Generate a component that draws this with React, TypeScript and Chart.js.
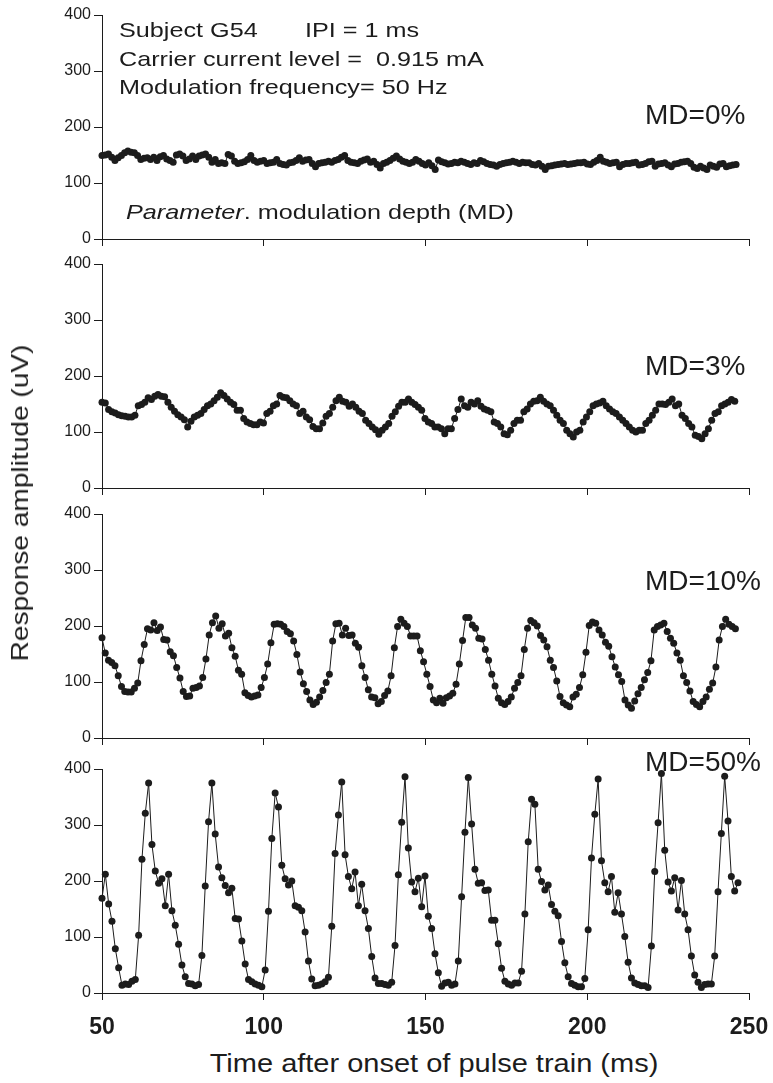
import React, { useEffect, useRef } from 'react';
import { Chart, registerables } from 'chart.js';

Chart.register(...registerables);

// ---------------- data ----------------
const T_START = 50; // ms, first pulse shown
const X_MIN = 50;
const X_MAX = 250;
const X_TICKS = [50, 100, 150, 200, 250];
const Y_MIN = 0;
const Y_MAX = 400;
const Y_TICKS = [0, 100, 200, 300, 400];

const MD_LABELS = ['MD=0%', 'MD=3%', 'MD=10%', 'MD=50%'];
// time of the last sample of each series (ms)
const LAST_TIMES = [246, 245.6, 245.8, 246.6];

// MD = 0 %
const md0 = [
  149, 150, 152, 146, 140, 145, 149, 154, 157, 155,
  154, 149, 142, 144, 145, 142, 146, 140, 147, 149,
  143, 140, 137, 150, 152, 148, 140, 143, 148, 142,
  148, 150, 152, 146, 137, 142, 135, 136, 135, 151,
  148, 139, 135, 136, 138, 142, 149, 140, 137, 139,
  140, 135, 136, 137, 142, 135, 133, 132, 136, 137,
  140, 145, 139, 141, 142, 135, 129, 135, 136, 137,
  139, 137, 140, 142, 146, 149, 140, 137, 136, 135,
  139, 141, 143, 137, 139, 133, 127, 135, 137, 140,
  144, 148, 143, 139, 137, 135, 137, 142, 139, 135,
  132,
  136, 131, 124, 141, 138, 136, 134, 135, 137, 136,
  139, 137, 135, 133, 136, 135, 140, 138, 135, 133,
  132, 130, 133, 135, 136, 137, 139, 137, 135, 137,
  136, 136, 133, 132, 135, 130, 124, 130, 131, 132,
  133, 134, 135, 133, 134, 135, 136, 136, 137, 134,
  133, 137, 140, 146, 139, 137, 135, 136, 137, 129,
  133, 135, 135, 136, 137, 132, 133, 135, 138, 139,
  130, 134, 135, 136, 132, 129, 134, 135, 137, 138,
  139, 135, 128, 126, 130, 127, 124, 132, 130, 128,
  134, 135, 129, 131, 132, 133,
];

// MD = 3 %
const md3 = [
  153, 152, 140, 136, 134, 131, 129, 128, 127, 127,
  130, 147, 149, 153, 161, 158, 164, 167, 164, 163,
  153, 144, 137, 131, 127, 122, 109, 119, 127, 130,
  133, 140, 147, 150, 156, 162, 170, 165, 159, 153,
  149, 139, 139, 124, 118, 115, 113, 113, 118, 116,
  133, 137, 147, 150, 165, 162, 161, 156, 150, 147,
  133, 137, 127, 122, 110, 106, 106, 116, 128, 133,
  144, 156, 162, 155, 153, 146, 150, 144, 137, 133,
  121, 115, 109, 104, 96, 103, 109, 115, 128, 136,
  146, 153, 153, 159, 153, 149, 144, 139, 124, 118,
  115, 109, 109, 106, 97, 106, 106, 124,
  140, 159, 147, 144, 153, 150, 156, 146, 141, 139,
  136, 118, 115, 109, 97, 95, 103, 115, 121, 121,
  136, 141, 150, 155, 156, 162, 155, 150, 147, 139,
  130, 121, 115, 103, 97, 91, 100, 103, 118, 127,
  136, 147, 150, 152, 155, 147, 141, 136, 133, 127,
  121, 115, 109, 103, 100, 103, 103, 115, 121, 130,
  139, 150, 150, 149, 153, 159, 147, 150, 130, 124,
  115, 109, 94, 92, 88, 97, 106, 121, 133, 136,
  147, 150, 153, 158, 155,
];

// MD = 10 %
const md10 = [
  179, 152, 139, 135, 129, 111, 92, 83, 82, 82,
  89, 98, 138, 167, 195, 193, 206, 192, 198, 176,
  175, 154, 147, 126, 107, 83, 74, 75, 89, 90,
  93, 108, 141, 184, 206, 218, 196, 204, 182, 187,
  161, 146, 121, 114, 81, 76, 73, 75, 77, 90,
  108, 132, 170, 203, 204, 203, 199, 190, 186, 173,
  149, 118, 97, 83, 68, 60, 64, 73, 85, 99,
  114, 173, 204, 205, 184, 196, 183, 184, 169, 162,
  129, 108, 86, 73, 72, 61, 65, 76, 84, 111,
  161, 199, 212, 205, 199, 182, 182, 182,
  156, 136, 114, 92, 68, 63, 71, 62, 72, 75,
  80, 96, 132, 174, 215, 215, 202, 196, 178, 177,
  158, 139, 114, 93, 71, 63, 60, 65, 73, 89,
  99, 111, 158, 196, 210, 206, 200, 183, 175, 163,
  139, 126, 102, 74, 63, 59, 56, 73, 78, 90,
  113, 153, 201, 207, 205, 193, 184, 171, 164, 145,
  127, 113, 101, 68, 59, 53, 66, 79, 90, 104,
  117, 138, 193, 199, 202, 205, 190, 178, 169, 152,
  139, 111, 99, 84, 65, 60, 56, 65, 73, 87,
  98, 127, 175, 199, 212, 203, 199, 195,
];

// MD = 50 %
const md50 = [
  169, 212, 159, 128, 79, 45, 14, 16, 15, 21,
  24, 103, 239, 321, 375, 265, 218, 196, 204, 156,
  212, 147, 121, 87, 50, 29, 17, 16, 13, 15,
  67, 191, 306, 375, 284, 225, 206, 192, 179, 187,
  133, 132, 93, 52, 24, 20, 16, 14, 11, 41,
  146, 276, 357, 332, 228, 204, 193, 200, 156, 153,
  147, 109, 57, 25, 13, 14, 16, 20, 28, 119,
  249, 318, 377, 247, 208, 186, 216, 156, 194, 147,
  115, 65, 27, 17, 17, 15, 14, 19, 85, 211,
  305, 386, 259, 198, 181, 205, 154, 209,
  137, 115, 70, 36, 12, 18, 19, 14, 16, 57,
  172, 287, 385, 302, 221, 196, 197, 183, 184, 130,
  130, 88, 44, 21, 16, 14, 18, 18, 39, 141,
  270, 346, 337, 221, 199, 184, 193, 158, 146, 138,
  92, 54, 29, 17, 14, 11, 11, 26, 113, 241,
  319, 382, 236, 197, 181, 208, 144, 179, 141, 101,
  55, 27, 18, 15, 13, 13, 10, 84, 217, 304,
  392, 255, 198, 182, 206, 148, 201, 141, 113, 66,
  32, 19, 10, 15, 16, 16, 66, 181, 285, 387,
  307, 208, 182, 197,
];

const SERIES = [md0, md3, md10, md50];

// ---------------- layout / style ----------------
const W = 773;
const H = 1083;
const AXIS_LEFT = 102;
const AXIS_RIGHT = 749;
const PANEL_TOPS = [15, 264, 514, 769];
const PANEL_H = 224;
const PAD_TOP = 10;
const FONT = "'Liberation Sans', Arial, Helvetica, sans-serif";
const INK = '#1c1c1c';

function Panel({ values, tEnd, top, showX }: { values: number[]; tEnd: number; top: number; showX: boolean }) {
  const ref = useRef<HTMLCanvasElement>(null);
  const xH = showX ? 52 : 12;
  const h = PAD_TOP + PANEL_H + xH;
  useEffect(() => {
    const dt = (tEnd - T_START) / (values.length - 1);
    const pts = values.map((v, i) => ({ x: T_START + i * dt, y: v }));
    const chart = new Chart(ref.current as HTMLCanvasElement, {
      type: 'line',
      data: {
        datasets: [
          {
            data: pts,
            borderColor: INK,
            borderWidth: 1,
            pointRadius: 3.5,
            pointBackgroundColor: INK,
            pointBorderWidth: 0,
            pointHoverRadius: 3.5,
            tension: 0,
            clip: false as any,
          },
        ],
      },
      options: {
        animation: false,
        responsive: false,
        maintainAspectRatio: false,
        devicePixelRatio: 1,
        events: [],
        layout: { padding: { top: PAD_TOP, left: 0, right: W - AXIS_RIGHT, bottom: 0 } },
        plugins: { legend: { display: false }, tooltip: { enabled: false }, title: { display: false } },
        scales: {
          x: {
            type: 'linear',
            min: X_MIN,
            max: X_MAX,
            afterBuildTicks: (s: any) => {
              s.ticks = X_TICKS.map((v) => ({ value: v }));
            },
            ticks: {
              display: showX,
              autoSkip: false,
              maxRotation: 0,
              font: { family: FONT, size: 23, weight: 'bold' },
              color: INK,
              padding: 14,
            },
            grid: { drawOnChartArea: false, drawTicks: true, tickLength: 7, color: INK, lineWidth: 1 },
            border: { display: true, color: INK, width: 1 },
            afterFit: (s: any) => {
              s.height = xH;
              s.paddingLeft = 0;
              s.paddingRight = 0;
            },
          },
          y: {
            type: 'linear',
            min: Y_MIN,
            max: Y_MAX,
            afterBuildTicks: (s: any) => {
              s.ticks = Y_TICKS.map((v) => ({ value: v }));
            },
            ticks: { font: { family: FONT, size: 16 }, color: INK, padding: 3 },
            grid: { drawOnChartArea: false, drawTicks: true, tickLength: 8, color: INK, lineWidth: 1 },
            border: { display: true, color: INK, width: 1 },
            afterFit: (s: any) => {
              s.width = AXIS_LEFT;
              s.paddingTop = 0;
              s.paddingBottom = 0;
            },
          },
        },
      } as any,
    });
    return () => chart.destroy();
  }, []);
  return (
    <canvas
      ref={ref}
      width={W}
      height={h}
      style={{ position: 'absolute', left: 0, top: top - PAD_TOP, width: W, height: h }}
    />
  );
}

function Txt({
  x,
  baseline,
  size,
  sx = 1,
  children,
}: {
  x: number;
  baseline: number;
  size: number;
  sx?: number;
  children: React.ReactNode;
}) {
  return (
    <div
      style={{
        position: 'absolute',
        left: x,
        top: baseline - 0.8465 * size,
        fontFamily: FONT,
        fontSize: size,
        lineHeight: `${size}px`,
        whiteSpace: 'pre',
        color: INK,
        transform: `scaleX(${sx})`,
        transformOrigin: 'left top',
      }}
    >
      {children}
    </div>
  );
}

export default function App() {
  const SX = 1.2;
  return (
    <div style={{ position: 'absolute', left: 0, top: 0, width: W, height: H, overflow: 'hidden', background: '#fff' }}>
      {SERIES.map((vals, i) => (
        <Panel key={i} values={vals} tEnd={LAST_TIMES[i]} top={PANEL_TOPS[i]} showX={i === SERIES.length - 1} />
      ))}
      <Txt x={119} baseline={37} size={21} sx={SX}>Subject G54</Txt>
      <Txt x={305} baseline={37} size={21} sx={SX}>IPI = 1 ms</Txt>
      <Txt x={119} baseline={66} size={21} sx={SX}>{'Carrier current level =  0.915 mA'}</Txt>
      <Txt x={119} baseline={94} size={21} sx={SX}>{'Modulation frequency= 50 Hz'}</Txt>
      <Txt x={126} baseline={219} size={21} sx={SX}>
        <span style={{ fontStyle: 'italic' }}>Parameter</span>. modulation depth (MD)
      </Txt>
      <Txt x={645} baseline={125} size={28}>{MD_LABELS[0]}</Txt>
      <Txt x={645} baseline={376} size={28}>{MD_LABELS[1]}</Txt>
      <Txt x={645} baseline={591} size={28}>{MD_LABELS[2]}</Txt>
      <Txt x={645} baseline={772} size={28}>{MD_LABELS[3]}</Txt>
      <div
        style={{
          position: 'absolute',
          left: 434,
          top: 1063,
          fontFamily: FONT,
          fontSize: 25,
          lineHeight: '25px',
          whiteSpace: 'pre',
          color: INK,
          transform: 'translate(-50%, -50%) scaleX(1.16)',
        }}
      >
        Time after onset of pulse train (ms)
      </div>
      <div
        style={{
          position: 'absolute',
          left: 20,
          top: 503,
          fontFamily: FONT,
          fontSize: 24,
          lineHeight: '24px',
          whiteSpace: 'pre',
          color: INK,
          transform: 'translate(-50%, -50%) rotate(-90deg) scaleX(1.17)',
        }}
      >
        Response amplitude (uV)
      </div>
    </div>
  );
}
